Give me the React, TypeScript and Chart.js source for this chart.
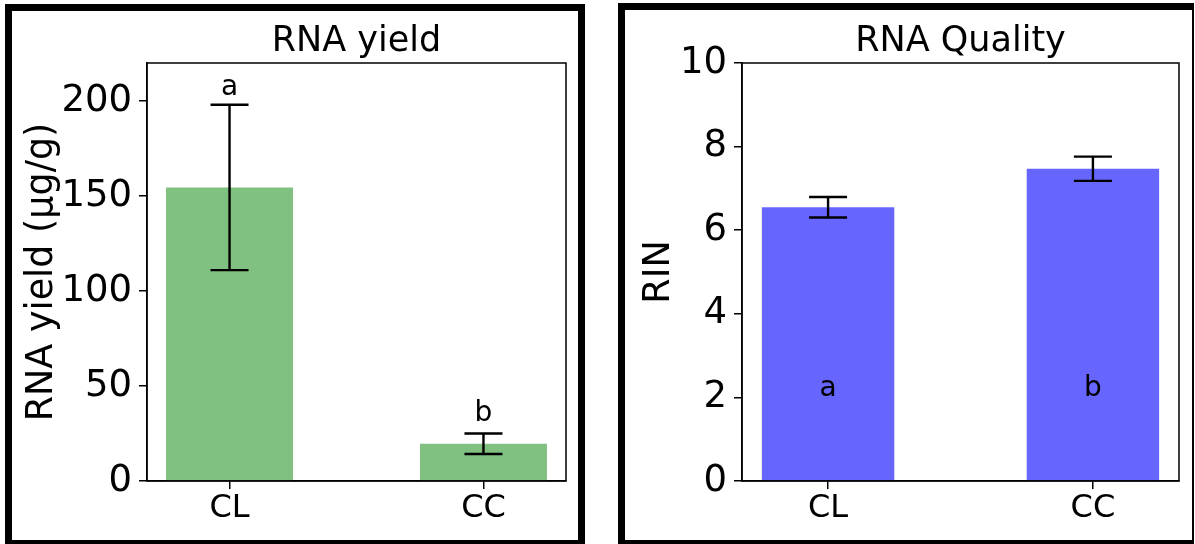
import React, { useEffect, useRef } from "react";
import { Chart, registerables } from "chart.js";

Chart.register(...registerables);

const FONT = "'DejaVu Sans', sans-serif";

// ---- data ----
const categories = ["CL", "CC"];
const categoryPositions = [0, 1];

const yieldMeans = [154.5, 19.6];
const yieldErrors = [43.5, 5.4];
const yieldLetters = ["a", "b"];
const yieldLetterY = [207, 35.5];
const yieldTicks = [0, 50, 100, 150, 200];
const yieldMax = 220;

const rinMeans = [6.55, 7.47];
const rinErrors = [0.245, 0.29];
const rinLetters = ["a", "b"];
const rinLetterY = [2.2, 2.2];
const rinTicks = [0, 2, 4, 6, 8, 10];
const rinMax = 10;

type PanelSpec = {
  title: string;
  yLabel: string;
  means: number[];
  errors: number[];
  letters: string[];
  letterY: number[];
  ticks: number[];
  yMax: number;
  color: string;
  canvasWidth: number;
  yAxisWidth: number;
  padRight: number;
  yTitlePad: number;
};

function makeOverlay(p: PanelSpec) {
  return {
    id: "overlay",
    afterDatasetsDraw(chart: any) {
      const { ctx, scales } = chart;
      const x = scales.x;
      const y = scales.y;
      ctx.save();
      ctx.strokeStyle = "#000";
      ctx.lineWidth = 2.4;
      categoryPositions.forEach((pos, i) => {
        const px = x.getPixelForValue(pos);
        const top = y.getPixelForValue(p.means[i] + p.errors[i]);
        const bot = y.getPixelForValue(p.means[i] - p.errors[i]);
        ctx.beginPath();
        ctx.moveTo(px, top);
        ctx.lineTo(px, bot);
        ctx.moveTo(px - 19, top);
        ctx.lineTo(px + 19, top);
        ctx.moveTo(px - 19, bot);
        ctx.lineTo(px + 19, bot);
        ctx.stroke();
      });
      ctx.fillStyle = "#000";
      ctx.font = `28px ${FONT}`;
      ctx.textAlign = "center";
      ctx.textBaseline = "middle";
      categoryPositions.forEach((pos, i) => {
        ctx.fillText(p.letters[i], x.getPixelForValue(pos), y.getPixelForValue(p.letterY[i]));
      });
      ctx.restore();
    },
    afterDraw(chart: any) {
      const { ctx, chartArea } = chart;
      ctx.save();
      ctx.strokeStyle = "#000";
      ctx.lineWidth = 1.5;
      ctx.strokeRect(chartArea.left, chartArea.top, chartArea.right - chartArea.left, chartArea.bottom - chartArea.top);
      ctx.restore();
    },
  };
}

function makeConfig(p: PanelSpec): any {
  return {
    type: "bar",
    data: {
      datasets: [
        {
          data: categoryPositions.map((x, i) => ({ x, y: p.means[i] })),
          backgroundColor: p.color,
          borderWidth: 0,
          categoryPercentage: 1,
          barPercentage: 0.5,
        },
      ],
    },
    options: {
      responsive: false,
      animation: false,
      devicePixelRatio: 1,
      layout: { padding: { left: 0, right: p.padRight, top: 0, bottom: 0 } },
      plugins: {
        legend: { display: false },
        tooltip: { enabled: false },
        title: {
          display: true,
          fullSize: false,
          text: p.title,
          color: "#000",
          font: { family: FONT, size: 35, weight: "normal" },
          padding: { top: 21, bottom: 0 },
        },
      },
      scales: {
        x: {
          type: "linear",
          offset: false,
          min: -0.325,
          max: 1.325,
          afterBuildTicks: (s: any) => {
            s.ticks = categoryPositions.map((v) => ({ value: v }));
          },
          afterFit: (s: any) => {
            s.height = 63;
          },
          ticks: {
            callback: (_v: any, idx: number) => categories[idx],
            color: "#000",
            font: { family: FONT, size: 32 },
            padding: 0,
            maxRotation: 0,
            autoSkip: false,
          },
          grid: {
            offset: false,
            drawOnChartArea: false,
            drawTicks: true,
            tickLength: 8,
            color: "#000",
            lineWidth: 1.5,
          },
          border: { display: true, color: "#000", width: 1.5 },
        },
        y: {
          type: "linear",
          min: 0,
          max: p.yMax,
          afterBuildTicks: (s: any) => {
            s.ticks = p.ticks.map((v) => ({ value: v }));
          },
          afterFit: (s: any) => {
            s.width = p.yAxisWidth;
          },
          title: {
            display: true,
            text: p.yLabel,
            color: "#000",
            font: { family: FONT, size: 36.5 },
            padding: { top: p.yTitlePad, bottom: 0 },
          },
          ticks: {
            color: "#000",
            font: { family: FONT, size: 37 },
            padding: 7,
            autoSkip: false,
          },
          grid: { drawOnChartArea: false, drawTicks: true, tickLength: 8, color: "#000", lineWidth: 1.5 },
          border: { display: true, color: "#000", width: 1.5 },
        },
      },
    },
    plugins: [makeOverlay(p)],
  };
}

const yieldPanel: PanelSpec = {
  title: "RNA yield",
  yLabel: "RNA yield (μg/g)",
  means: yieldMeans,
  errors: yieldErrors,
  letters: yieldLetters,
  letterY: yieldLetterY,
  ticks: yieldTicks,
  yMax: yieldMax,
  color: "#80c080",
  canvasWidth: 600,
  yAxisWidth: 147,
  padRight: 34,
  yTitlePad: 21,
};

const rinPanel: PanelSpec = {
  title: "RNA Quality",
  yLabel: "RIN",
  means: rinMeans,
  errors: rinErrors,
  letters: rinLetters,
  letterY: rinLetterY,
  ticks: rinTicks,
  yMax: rinMax,
  color: "#6666ff",
  canvasWidth: 595,
  yAxisWidth: 142,
  padRight: 16,
  yTitlePad: 38,
};

function Panel({ spec, left }: { spec: PanelSpec; left: number }) {
  const ref = useRef<HTMLCanvasElement | null>(null);
  useEffect(() => {
    if (!ref.current) return;
    const chart = new Chart(ref.current, makeConfig(spec));
    return () => chart.destroy();
  }, []);
  return (
    <canvas
      ref={ref}
      width={spec.canvasWidth}
      height={544}
      style={{ position: "absolute", left, top: 0, width: spec.canvasWidth, height: 544 }}
    />
  );
}

export default function App() {
  return (
    <div
      style={{
        position: "absolute",
        left: 0,
        top: 0,
        width: 1195,
        height: 544,
        overflow: "hidden",
        background: "#fff",
      }}
    >
      <Panel spec={yieldPanel} left={0} />
      <Panel spec={rinPanel} left={600} />
      <div
        style={{
          position: "absolute",
          left: 5,
          top: 4,
          width: 580,
          height: 543,
          boxSizing: "border-box",
          border: "7px solid #000",
          pointerEvents: "none",
        }}
      />
      <div
        style={{
          position: "absolute",
          left: 618,
          top: 3,
          width: 576,
          height: 544,
          boxSizing: "border-box",
          borderStyle: "solid",
          borderColor: "#000",
          borderWidth: "7px 2px 7px 7px",
          pointerEvents: "none",
        }}
      />
    </div>
  );
}
